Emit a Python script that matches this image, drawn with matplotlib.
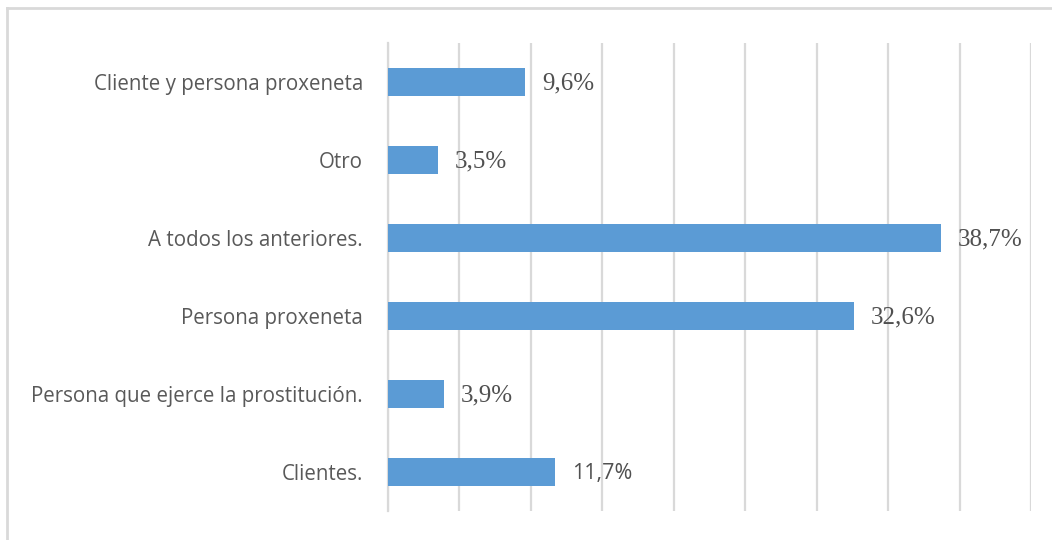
import matplotlib.pyplot as plt
from matplotlib.lines import Line2D

categories = ["Clientes.", "Persona que ejerce la prostitución.", "Persona proxeneta",
              "A todos los anteriores.", "Otro", "Cliente y persona proxeneta"]
values = [11.7, 3.9, 32.6, 38.7, 3.5, 9.6]
value_labels = ["11,7%", "3,9%", "32,6%", "38,7%", "3,5%", "9,6%"]

W, H = 1052, 540
fig = plt.figure(figsize=(W / 100, H / 100), dpi=100)
ax = fig.add_axes([388 / W, 1 - 511 / H, (1031 - 388) / W, (511 - 43) / H])

grid_c = "#d9d9d9"
text_c = "#595959"

ax.barh(range(len(values)), values, height=0.35, color="#5b9bd5", zorder=3)
ax.set_xlim(0, 45)
ax.set_ylim(-0.5, len(values) - 0.5)
ax.set_xticks(range(0, 50, 5))
ax.xaxis.grid(True, color=grid_c, linewidth=1.6, zorder=0)
ax.tick_params(axis="x", length=0, labelbottom=False)
ax.tick_params(axis="y", length=0, pad=18)
ax.set_yticks(range(len(categories)))
ax.set_yticklabels(categories, fontsize=14.8, color=text_c, family="Open Sans")
for s in ["top", "right", "bottom"]:
    ax.spines[s].set_visible(False)
ax.spines["left"].set_color(grid_c)
ax.spines["left"].set_linewidth(1.6)

for i, (v, lab) in enumerate(zip(values, value_labels)):
    fam = "Open Sans" if i == 0 else "Liberation Serif"
    fs = 15.5 if i == 0 else 18
    ax.annotate(lab, (v, i), xytext=(12, -1), textcoords="offset points",
                va="center", ha="left", fontsize=fs, color="#505050", family=fam, zorder=4)

# chart frame (cropped at right/bottom)
fig.add_artist(Line2D([7 / W, 7 / W], [0, 1 - 8 / H], color="#d9d9d9", linewidth=2,
                      transform=fig.transFigure))
fig.add_artist(Line2D([7 / W, 1], [1 - 8 / H, 1 - 8 / H], color="#d9d9d9", linewidth=2,
                      transform=fig.transFigure))

fig.savefig("out.png", dpi=100)
